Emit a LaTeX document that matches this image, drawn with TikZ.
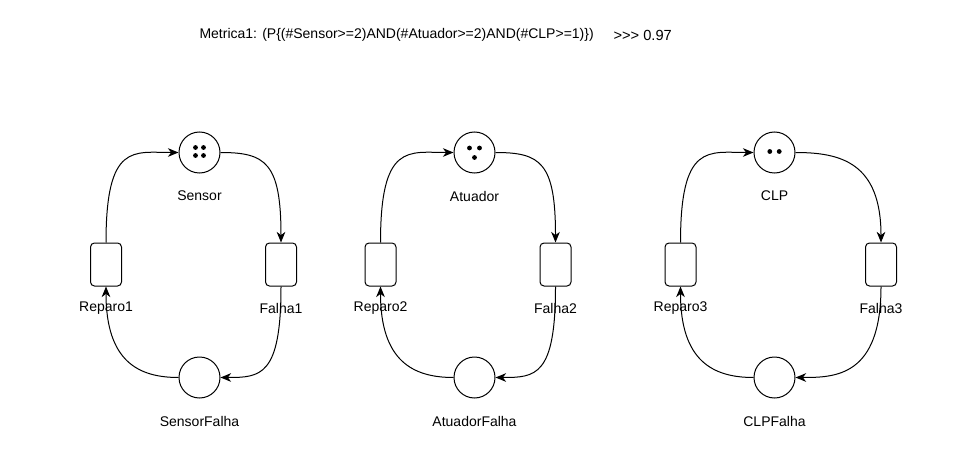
\documentclass[tikz,border=0pt]{standalone}
\usepackage{fontspec}
\setmainfont{Liberation Sans}
\usetikzlibrary{arrows.meta}
\begin{document}
\begin{tikzpicture}[x=0.75pt,y=-0.75pt,line width=0.75pt,
  place/.style={circle,draw,minimum size=30.75pt,inner sep=0pt},
  trans/.style={rectangle,rounded corners=3pt,draw,minimum width=23.25pt,minimum height=32.25pt,inner sep=0pt},
  lbl/.style={font=\fontsize{10.5pt}{12pt}\selectfont,inner sep=0pt},
  res/.style={font=\fontsize{11pt}{13pt}\selectfont,inner sep=0pt},
  arc/.style={-{Stealth[length=8pt,width=6.5pt,inset=2.5pt]}},
  tok/.style={circle,fill,inner sep=0pt,minimum size=3.6pt}]
\useasboundingbox (0,0) rectangle (980,463);
\node[lbl,anchor=west] (title) at (199,35) {Metrica1: (P\{(\#Sensor>=2)AND(\#Atuador>=2)AND(\#CLP>=1)\})};
\node[res,anchor=west] (result) at (613,35) {>\kern0pt>\kern0pt> 0.97};
\foreach \i/\xr/\xp/\xf/\pn/\fn in {1/106/199.5/281/Sensor/SensorFalha,2/380.5/474.5/555.5/Atuador/AtuadorFalha,3/680.5/774.5/881/CLP/CLPFalha}{
  \node[place] (P\i) at (\xp,152.5) {};
  \node[place] (PF\i) at (\xp,377.5) {};
  \node[trans] (R\i) at (\xr,264.5) {};
  \node[trans] (F\i) at (\xf,264.5) {};
  \node[lbl] (P\i l) at (\xp,196) {\pn};
  \node[lbl] (PF\i l) at (\xp,421) {\fn};
  \node[lbl] (R\i l) at (\xr,308) {Reparo\i};
  \node[lbl] (F\i l) at (\xf,308) {Falha\i};
  \draw[arc] (R\i.north) .. controls +(0,-100) and +(-45,0) .. (P\i.west);
  \draw[arc] (P\i.east) .. controls +(45,0) and +(0,-80) .. (F\i.north);
  \draw[arc] (F\i.south) .. controls +(0,90) and +(40,0) .. (PF\i.east);
  \draw[arc] (PF\i.west) .. controls +(-40,0) and +(0,75) .. (R\i.south);
}
% tokens
\node[tok] (s1) at (195.5,147.5) {};
\node[tok] (s2) at (203.5,147.5) {};
\node[tok] (s3) at (195.5,155.5) {};
\node[tok] (s4) at (203.5,155.5) {};
\node[tok] (a1) at (469.5,148) {};
\node[tok] (a2) at (479.5,148) {};
\node[tok] (a3) at (474.5,157.5) {};
\node[tok] (c1) at (769.8,151.5) {};
\node[tok] (c2) at (779.2,151.5) {};
\end{tikzpicture}
\end{document}
